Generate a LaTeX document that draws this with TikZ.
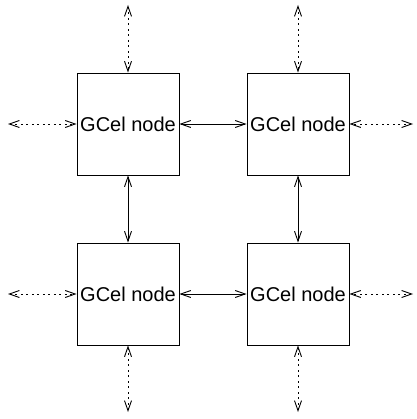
\documentclass[tikz,border=0pt]{standalone}
\usepackage{fontspec}
\setmainfont{Liberation Sans}
\usetikzlibrary{arrows.meta}
\begin{document}
\begin{tikzpicture}[x=1pt,y=-1pt,
  cell/.style={draw,line width=0.9pt,minimum size=102pt,inner sep=0pt,font=\fontsize{20}{22}\selectfont},
  link/.style={line width=0.9pt,{Straight Barb[length=10pt,width=7pt]}-{Straight Barb[length=10pt,width=7pt]}},
  ext/.style={link,dash pattern=on 2pt off 3.5pt}]
\useasboundingbox (0,0) rectangle (416,419);
\node[cell] (a) at (128,124) {GCel node};
\node[cell] (b) at (298,124) {GCel node};
\node[cell] (c) at (128,294) {GCel node};
\node[cell] (d) at (298,294) {GCel node};
\coordinate (at) at (128,5);
\coordinate (bt) at (298,5);
\coordinate (al) at (8,124);
\coordinate (cl) at (8,294);
\coordinate (br) at (413,124);
\coordinate (dr) at (413,294);
\coordinate (cb) at (128,412);
\coordinate (db) at (298,412);
\draw[link] (a) -- (b);
\draw[link] (c) -- (d);
\draw[link] (a) -- (c);
\draw[link] (b) -- (d);
\draw[ext] (at) -- (a);
\draw[ext] (bt) -- (b);
\draw[ext] (al) -- (a);
\draw[ext] (cl) -- (c);
\draw[ext] (br) -- (b);
\draw[ext] (dr) -- (d);
\draw[ext] (cb) -- (c);
\draw[ext] (db) -- (d);
\end{tikzpicture}
\end{document}
